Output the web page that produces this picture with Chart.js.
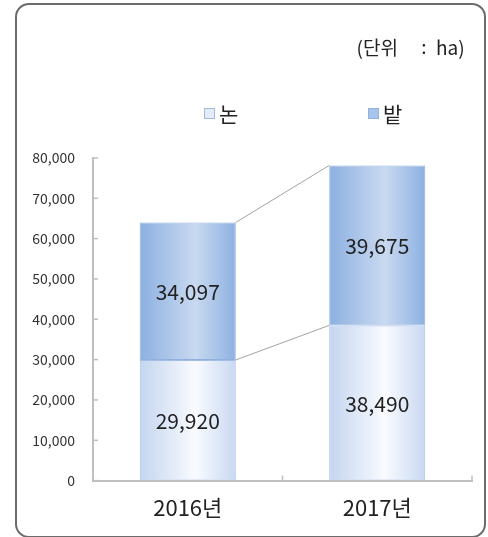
<!DOCTYPE html>
<html>
<head>
<meta charset="utf-8">
<script src="https://cdn.jsdelivr.net/npm/chart.js@4"></script>
<style>
  html, body { margin: 0; padding: 0; background: #fff; }
  .wrap { position: relative; width: 488px; height: 537px; }
  .frame {
    position: absolute; left: 15px; top: 3px; width: 467px; height: 531px;
    border: 2px solid #6b6b6b; border-radius: 14px;
  }
  canvas { position: absolute; left: 0; top: 0; }
</style>
</head>
<body>
<div class="wrap">
  <div class="frame"></div>
  <canvas id="myChart" width="488" height="537"></canvas>
</div>
<script>
const categories = ['2016년', '2017년']
const seriesNames = ['논', '밭']
const paddyValues = [29920, 38490]
const fieldValues = [34097, 39675]
const yTicks = [0, 10000, 20000, 30000, 40000, 50000, 60000, 70000, 80000]
const unitParts = ['(단위', ':', 'ha)']

const FONT = "'Noto Sans CJK KR', 'Noto Sans', sans-serif"
const BAR_PCT = 0.507

// horizontal gradient across each bar, built from the bar's scale position
const barGradient = (stops) => (ctx) => {
    const chart = ctx.chart
    if (!chart.chartArea || ctx.dataIndex == null) return stops[1]
    const xs = chart.scales.x
    const x = xs.getPixelForTick(ctx.dataIndex)
    const half = xs.width / categories.length * BAR_PCT / 2
    const g = chart.ctx.createLinearGradient(x - half, 0, x + half, 0)
    g.addColorStop(0, stops[0])
    g.addColorStop(0.58, stops[1])
    g.addColorStop(1, stops[2])
    return g
}

const extras = {
    id: 'extras',
    afterDatasetsDraw(chart) {
        const c = chart.ctx
        const ys = chart.scales.y
        const area = chart.chartArea

        // connector lines between stack tops
        c.save()
        c.strokeStyle = '#8c8c8c'
        c.lineWidth = 0.8
        const metas = [chart.getDatasetMeta(0), chart.getDatasetMeta(1)]
        metas.forEach(m => {
            const a = m.data[0], b = m.data[1]
            c.beginPath()
            c.moveTo(a.x + a.width / 2, a.y)
            c.lineTo(b.x - b.width / 2, b.y)
            c.stroke()
        })

        // value labels
        c.fillStyle = '#222'
        c.font = '21px ' + FONT
        c.textAlign = 'center'
        c.textBaseline = 'middle'
        metas.forEach((m, di) => {
            const vals = di === 0 ? paddyValues : fieldValues
            m.data.forEach((bar, i) => {
                c.fillText(vals[i].toLocaleString('en-US'), bar.x, (bar.y + bar.base) / 2 + 1)
            })
        })

        // inward tick marks
        c.strokeStyle = '#bfbfbf'
        c.lineWidth = 1.5
        yTicks.forEach(v => {
            const y = ys.getPixelForValue(v)
            c.beginPath(); c.moveTo(area.left, y); c.lineTo(area.left + 5, y); c.stroke()
        })
        for (let i = 1; i <= categories.length; i++) {
            const x = area.left + (area.right - area.left) * i / categories.length
            c.beginPath(); c.moveTo(x, area.bottom); c.lineTo(x, area.bottom - 5); c.stroke()
        }
        c.restore()
    },
    afterDraw(chart) {
        const c = chart.ctx
        c.save()
        // unit
        c.fillStyle = '#222'
        c.font = '19px ' + FONT
        c.textBaseline = 'middle'
        c.textAlign = 'right'
        c.fillText(unitParts[0], 398, 48)
        c.textAlign = 'center'
        c.fillText(unitParts[1], 424, 47)
        c.textAlign = 'left'
        c.fillText(unitParts[2], 436, 48)

        // legend
        const items = [
            { x: 204, fill: '#e3ecf8', stroke: '#9fbbe3' },
            { x: 368, fill: '#a9c4ea', stroke: '#8fb0e0' }
        ]
        c.font = '21px ' + FONT
        c.textAlign = 'left'
        items.forEach((it, i) => {
            c.fillStyle = it.fill
            c.fillRect(it.x, 108, 11, 11)
            c.strokeStyle = it.stroke
            c.lineWidth = 1
            c.strokeRect(it.x + 0.5, 108.5, 10, 10)
            c.fillStyle = '#222'
            c.fillText(seriesNames[i], it.x + 15, 114)
        })
        c.restore()
    }
}

const ctx = document.getElementById('myChart').getContext('2d')

new Chart(ctx, {
    type: 'bar',
    data: {
        labels: categories,
        datasets: [{
            label: seriesNames[0],
            data: paddyValues,
            backgroundColor: barGradient(['#c4d5ef', '#f9fbff', '#c8d8f1']),
            borderColor: '#a3bee5',
            borderWidth: 1,
            borderSkipped: false
        }, {
            label: seriesNames[1],
            data: fieldValues,
            backgroundColor: barGradient(['#8cb0e1', '#c9d9f0', '#8db1e2']),
            borderColor: '#8fb0e0',
            borderWidth: 1,
            borderSkipped: false
        }]
    },
    plugins: [extras],
    options: {
        responsive: false,
        animation: false,
        barPercentage: BAR_PCT,
        categoryPercentage: 1,
        layout: { padding: { top: 158, left: 10, right: 16, bottom: 10 } },
        plugins: {
            legend: { display: false },
            tooltip: { enabled: false },
            title: { display: false }
        },
        scales: {
            x: {
                stacked: true,
                grid: { display: false },
                border: { color: '#bfbfbf', width: 2 },
                ticks: { color: '#222', font: { family: FONT, size: 22 }, padding: 6 }
            },
            y: {
                stacked: true,
                min: 0,
                max: 80000,
                afterBuildTicks: (axis) => { axis.ticks = yTicks.map(v => ({ value: v })) },
                afterFit: (axis) => { axis.width = 93 - 10 },
                grid: { display: false },
                border: { color: '#bfbfbf', width: 2 },
                ticks: {
                    color: '#333',
                    font: { family: FONT, size: 14 },
                    padding: 10,
                    callback: (v) => v.toLocaleString('en-US')
                }
            }
        }
    }
})
</script>
</body>
</html>
